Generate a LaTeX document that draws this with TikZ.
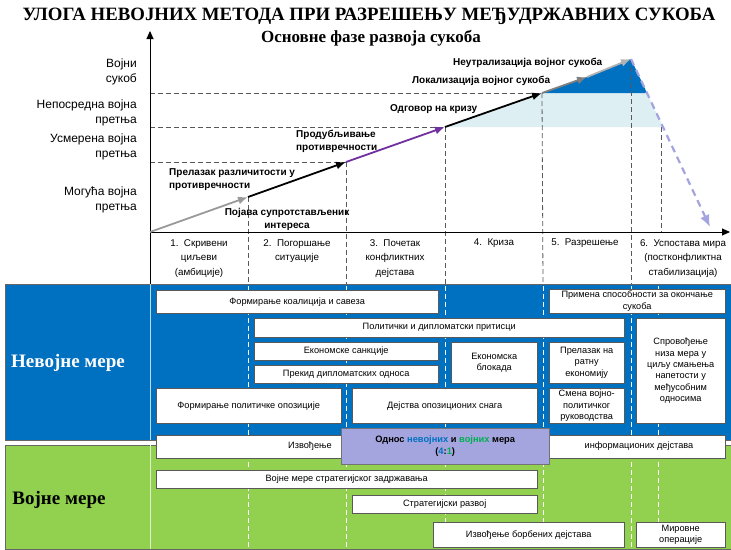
\documentclass[tikz,border=0pt]{standalone}
\usepackage{fontspec}
\setmainfont{Liberation Serif}
\setsansfont{Liberation Sans}
\usepackage{tikz}
\usetikzlibrary{shapes,arrows,arrows.meta,positioning}
\definecolor{nvblue}{RGB}{0,112,192}
\definecolor{vgreen}{RGB}{146,208,80}
\definecolor{dgreen}{RGB}{0,176,80}
\definecolor{lav}{RGB}{164,164,222}
\definecolor{lcyan}{RGB}{222,239,243}
\definecolor{purp}{RGB}{112,48,160}
\tikzstyle{block} = [draw=black!65, fill=white, rectangle, anchor=north west, inner sep=1pt, align=center, font=\sffamily\fontsize{9.2}{11.3}\selectfont]
\tikzstyle{threat} = [anchor=east, align=right, inner sep=0pt, font=\sffamily\fontsize{12}{15}\selectfont]
\tikzstyle{phase} = [anchor=north, align=center, inner sep=0pt, font=\sffamily\fontsize{9.8}{14.5}\selectfont]
\tikzstyle{stage} = [anchor=west, align=left, inner sep=0pt, font=\sffamily\bfseries\fontsize{10}{13}\selectfont]
\tikzstyle{guide} = [black!65, dash pattern=on 5pt off 3pt, line width=0.8pt]
\tikzstyle{divider} = [white, dash pattern=on 5pt off 3pt, line width=0.9pt]
\tikzstyle{rise} = [-{Latex[length=10pt,width=8pt]}, line width=1.8pt]

\begin{document}
\begin{tikzpicture}[x=1pt, y=-1pt]
    \useasboundingbox (0,0) rectangle (731,549);

    % titles
    \node (title) at (369,16) {\bfseries\fontsize{18.8}{20}\selectfont УЛОГА НЕВОЈНИХ МЕТОДА ПРИ РАЗРЕШЕЊУ МЕЂУДРЖАВНИХ СУКОБА};
    \node (subtitle) at (371,38) {\bfseries\fontsize{17}{20}\selectfont Основне фазе развоја сукоба};

    % points of the rising line
    \coordinate (p0) at (150,232);
    \coordinate (p1) at (248,197);
    \coordinate (p2) at (346,162);
    \coordinate (p3) at (445,127);
    \coordinate (p4) at (542,93);
    \coordinate (p5) at (587,77);
    \coordinate (p6) at (631,59);
    \coordinate (p7) at (710,227);

    % fills
    \fill[lcyan] (p3) -- (p4) -- (647,93) -- (663,127) -- cycle;
    \fill[nvblue] (p4) -- (p5) -- (p6) -- (647,93) -- cycle;

    % guide lines
    \draw[guide] (150,93) -- (p4);
    \draw[guide] (150,127) -- (p3);
    \draw[guide] (150,162) -- (p2);
    \draw[guide] (p1) -- (248,284);
    \draw[guide] (p2) -- (346,284);
    \draw[guide] (p3) -- (445,284);
    \draw[guide] (p4) -- (543,284);
    \draw[guide] (p6) -- (631,284);
    \draw[guide] (661,127) -- (661,232);

    % axes
    \draw[-{Triangle[length=8pt,width=7pt]}, line width=0.9pt] (150,284) -- (150,31);
    \draw[-{Triangle[length=8pt,width=7pt]}, line width=0.9pt] (p0) -- (730,232);

    % levels
    \node [threat] (sukob) at (137,71.5) {Војни\\сукоб};
    \node [threat] (neposredna) at (137,112.5) {Непосредна војна\\претња};
    \node [threat] (usmerena) at (137,146.5) {Усмерена војна\\претња};
    \node [threat] (moguca) at (137,199.5) {Могућа војна\\претња};

    % rising line
    \draw[rise, black!40] (p0) -- (p1);
    \draw[rise, black] (p1) -- (p2);
    \draw[rise, purp] (p2) -- (p3);
    \draw[rise, black] (p3) -- (p4);
    \draw[rise, black!50] (p4) -- (p5);
    \draw[rise, black!30] (p5) -- (p6);
    \draw[-{Latex[length=12pt,width=10pt]}, lav, line width=2.2pt, dash pattern=on 7pt off 5pt] (p6) -- (p7);

    \node [stage] (prelazak) at (169,180) {Прелазак различитости у\\противречности};
    \node [stage, anchor=center, align=center] (pojava) at (287,219) {Појава супротстављеник\\интереса};
    \node [stage] (produb) at (296,141.5) {Продубљивање\\противречности};
    \node [stage] (odgovor) at (390,109) {Одговор на кризу};
    \node [stage] (lokal) at (412,81) {Локализација војног сукоба};
    \node [stage] (neutral) at (453,63) {Неутрализација војног сукоба};

    % phases
    \node [phase] (ph1) at (199,239) {1.\ \ Скривени\\циљеви\\(амбиције)};
    \node [phase] (ph2) at (297,239) {2.\ \ Погоршање\\ситуације};
    \node [phase] (ph3) at (395,239) {3.\ \ Почетак\\конфликтних\\дејстава};
    \node [phase] (ph4) at (494,239) {4.\ \ Криза};
    \node [phase] (ph5) at (585,239) {5.\ \ Разрешење};
    \node [phase] (ph6) at (683,239) {6.\ \ Успостава мира\\(постконфликтна\\стабилизација)};

    % regions
    \draw[fill=nvblue, draw=black!60] (5,284) rectangle (731,440);
    \draw[fill=vgreen, draw=black!60] (5,445) rectangle (731,549);
    \draw[white!75!nvblue] (150,284) -- (150,440);
    \draw[white!70!vgreen] (150,445) -- (150,549);
    \foreach \x in {248,346,445,543,631,658}
        \draw[divider] (\x,286) -- (\x,549);

    \node [text=white, font=\bfseries\fontsize{19}{22}\selectfont] (nevojne) at (68,363) {Невојне мере};
    \node [font=\bfseries\fontsize{19}{22}\selectfont] (vojne) at (59,500) {Војне мере};

    % non-military measures
    \node [block, minimum width=282, minimum height=23] (koalicija) at (156,290) {Формирање коалиција и савеза};
    \node [block, minimum width=176, minimum height=24] (okoncanje) at (549,289) {Примена способности за окончање\\сукоба};
    \node [block, minimum width=370, minimum height=19] (pritisci) at (254,318) {Политички и дипломатски притисци};
    \node [block, minimum width=184, minimum height=18] (sankcije) at (254,342) {Економске санкције};
    \node [block, minimum width=184, minimum height=18] (prekid) at (254,365) {Прекид дипломатских односа};
    \node [block, minimum width=86, minimum height=41] (blokada) at (451,342) {Економска\\блокада};
    \node [block, minimum width=75, minimum height=41] (ratna) at (549,342) {Прелазак на\\ратну\\економију};
    \node [block, minimum width=75, minimum height=35] (smena) at (549,388) {Смена војно-\\политичког\\руководства};
    \node [block, minimum width=89, minimum height=105] (sprov) at (636,318) {Спровођење\\низа мера у\\циљу смањења\\напетости у\\међусобним\\односима};
    \node [block, minimum width=185, minimum height=35] (opozicija) at (156,388) {Формирање политичке опозиције};
    \node [block, minimum width=185, minimum height=35] (opozsnage) at (352,388) {Дејства опозиционих снага};

    % information operations and ratio
    \node [block, minimum width=569, minimum height=23] (info) at (156,435) {};
    \node [font=\sffamily\fontsize{9.2}{11}\selectfont] (info1) at (310,446.5) {Извођење};
    \node [font=\sffamily\fontsize{9.2}{11}\selectfont] (info2) at (639,446.5) {информационих дејстава};
    \node [block, fill=lav, draw=black!55, minimum width=208, minimum height=36, font=\sffamily\bfseries\fontsize{9.3}{12}\selectfont] (odnos) at (341,428)
        {Однос {\color{nvblue}невојних} и {\color{dgreen}војних} мера\\({\color{nvblue}4}:{\color{dgreen}1})};

    % military measures
    \node [block, minimum width=381, minimum height=18] (zadrz) at (156,470) {Војне мере стратегијског задржавања};
    \node [block, minimum width=185, minimum height=18] (razvoj) at (352,495) {Стратегијски развој};
    \node [block, minimum width=191, minimum height=25] (borbena) at (433,522) {Извођење борбених дејстава};
    \node [block, minimum width=89, minimum height=25] (mirovne) at (636,522) {Мировне\\операције};
\end{tikzpicture}
\end{document}
